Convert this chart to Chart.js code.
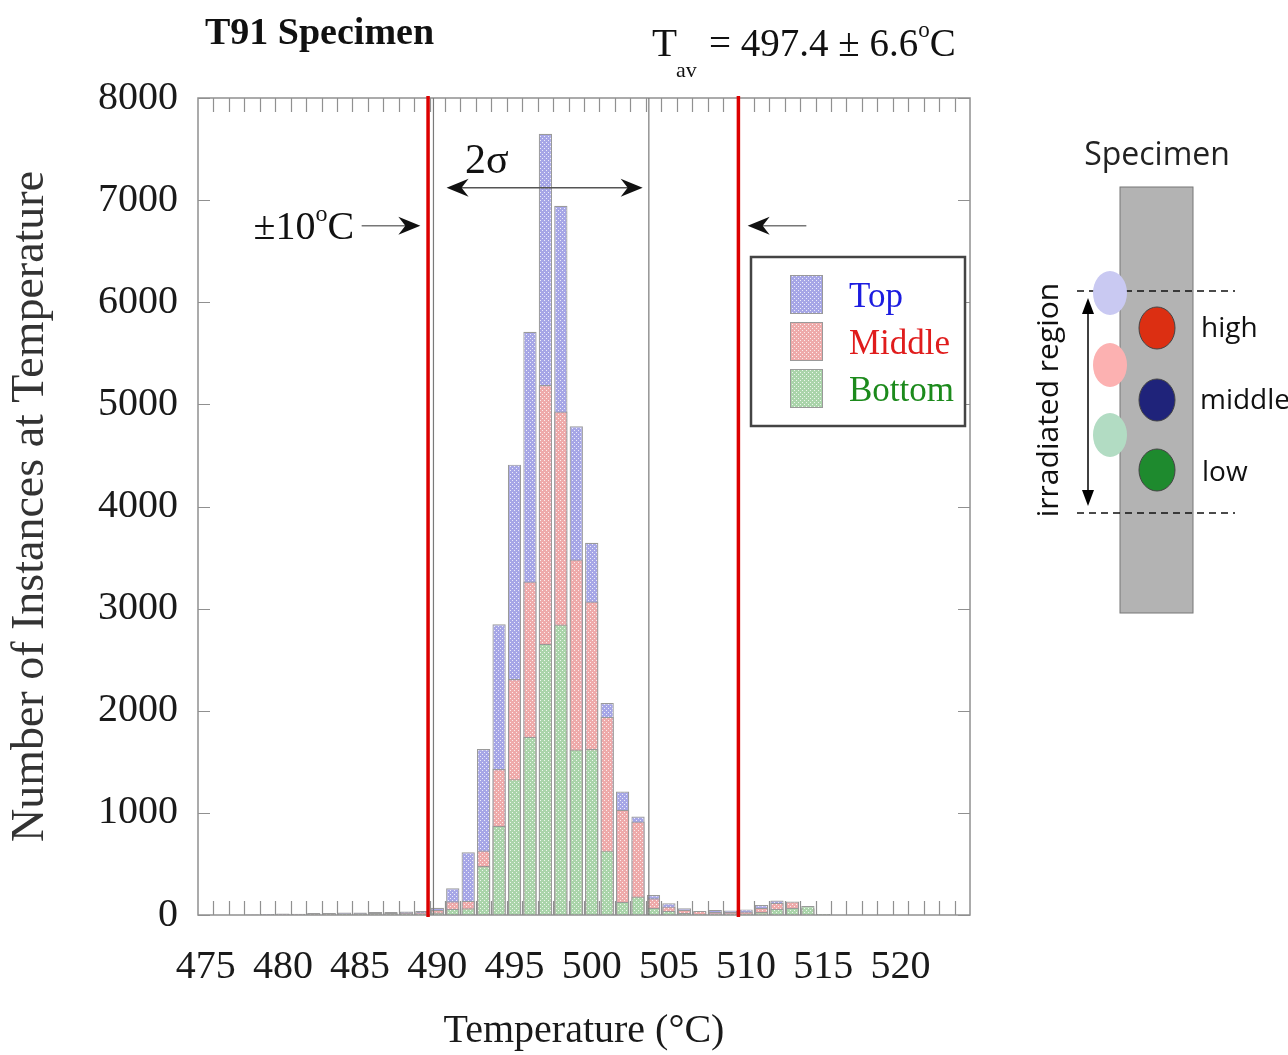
<!DOCTYPE html>
<html>
<head>
<meta charset="utf-8">
<script src="https://cdn.jsdelivr.net/npm/chart.js@4.4.1/dist/chart.umd.min.js"></script>
<style>
html, body { margin: 0; padding: 0; background: #fff; }
#wrap { position: relative; width: 1288px; height: 1055px; }
#histo { position: absolute; left: 0; top: 0; }
#diagram { position: absolute; left: 0; top: 0; }
</style>
</head>
<body>
<div id="wrap">
<canvas id="histo" width="1288" height="1055"></canvas>
<svg id="diagram" width="1288" height="1055" xmlns="http://www.w3.org/2000/svg">
  <text x="1157" y="165" font-family="Open Sans" font-size="32" fill="#222" text-anchor="middle">Specimen</text>
  <rect x="1120" y="187" width="73" height="426" fill="#b3b3b3" stroke="#777" stroke-width="1"/>
  <line x1="1077" y1="291" x2="1235" y2="291" stroke="#111" stroke-width="1.5" stroke-dasharray="7 5"/>
  <line x1="1077" y1="513" x2="1235" y2="513" stroke="#111" stroke-width="1.5" stroke-dasharray="7 5"/>
  <ellipse cx="1110" cy="293" rx="17" ry="22" fill="#c9c9f2"/>
  <ellipse cx="1110" cy="365" rx="17" ry="22" fill="#fcb1b1"/>
  <ellipse cx="1110" cy="435" rx="17" ry="22" fill="#b2dcc3"/>
  <ellipse cx="1157" cy="328" rx="18" ry="21" fill="#dc2f12" stroke="#444" stroke-width="1"/>
  <ellipse cx="1157" cy="400" rx="18" ry="21" fill="#1f237a" stroke="#444" stroke-width="1"/>
  <ellipse cx="1157" cy="470" rx="18" ry="21" fill="#1e8a2e" stroke="#444" stroke-width="1"/>
  <line x1="1088" y1="310" x2="1088" y2="494" stroke="#000" stroke-width="1.5"/>
  <polygon points="1088,298 1082,314 1094,314" fill="#000"/>
  <polygon points="1088,506 1082,490 1094,490" fill="#000"/>
  <text x="1058" y="400" font-family="Open Sans" font-size="30" fill="#111" text-anchor="middle" transform="rotate(-90 1058 400)">irradiated region</text>
  <text x="1201" y="337" font-family="Open Sans" font-size="28" fill="#111">high</text>
  <text x="1200" y="409" font-family="Open Sans" font-size="28" fill="#111">middle</text>
  <text x="1202" y="481" font-family="Open Sans" font-size="28" fill="#111">low</text>
</svg>
</div>
<script>
// histogram bins (deg C) and counts per thermocouple position
const temps = [478,479,480,481,482,483,484,485,486,487,488,489,490,491,492,493,494,495,496,497,498,499,500,501,502,503,504,505,506,507,508,509,510,511,512,513,514,515];
const topCounts    = [5,10,15,12,20,20,25,25,30,30,35,40,70,262,615,1626,2846,4410,5710,7650,6945,4785,3645,2075,1210,965,196,114,65,35,50,45,55,98,141,120,60,5];
const middleCounts = [3,5,8,8,12,14,15,18,20,22,25,28,50,135,140,631,1430,2310,3265,5190,4930,3480,3070,1940,1030,915,163,82,50,40,30,30,35,70,120,131,70,5];
const bottomCounts = [2,3,5,5,8,8,10,10,12,12,15,15,25,60,65,480,873,1330,1745,2655,2845,1620,1625,630,130,180,70,40,20,10,15,15,15,30,60,70,88,10];

const xTickLabels = [475,480,485,490,495,500,505,510,515,520];
const yTickValues = [0,1000,2000,3000,4000,5000,6000,7000,8000];
const binEdges = [];
for (let e = 475.5; e < 524.5; e += 1) binEdges.push(e);

const redLines = [489.4, 509.5];
const sigmaLines = [489.75, 503.7];

const serif = "'Liberation Serif', 'Times New Roman', serif";

function makePattern(base) {
  const c = document.createElement('canvas');
  c.width = 4; c.height = 4;
  const g = c.getContext('2d');
  g.fillStyle = base;
  g.fillRect(0, 0, 4, 4);
  g.fillStyle = 'rgba(255,255,255,0.8)';
  g.fillRect(0, 0, 1, 1);
  g.fillRect(2, 2, 1, 1);
  return g.createPattern(c, 'repeat');
}

const seriesStyle = [
  { label: 'Top', fill: makePattern('#a6a6e6'), text: '#1c1ce0', order: 3 },
  { label: 'Middle', fill: makePattern('#eeaaaa'), text: '#e01c1c', order: 2 },
  { label: 'Bottom', fill: makePattern('#aad4aa'), text: '#1c8a1c', order: 1 }
];
const seriesData = [topCounts, middleCounts, bottomCounts];

const points = arr => temps.map((t, i) => ({ x: t, y: arr[i] }));

// draw text made of parts (for superscripts / subscripts)
function drawParts(ctx, parts, x, y) {
  let cx = x;
  parts.forEach(p => {
    ctx.font = (p.bold ? 'bold ' : '') + p.size + 'px ' + serif;
    ctx.fillText(p.t, cx, y + (p.dy || 0));
    cx += ctx.measureText(p.t).width + (p.gap || 0);
  });
}

function arrowHead(ctx, x, y, dir) {
  ctx.beginPath();
  ctx.moveTo(x, y);
  ctx.lineTo(x - dir * 22, y - 9);
  ctx.lineTo(x - dir * 15, y);
  ctx.lineTo(x - dir * 22, y + 9);
  ctx.closePath();
  ctx.fill();
}

const decor = {
  id: 'decor',
  afterDatasetsDraw(chart) {
    const ctx = chart.ctx;
    const a = chart.chartArea;
    const xs = chart.scales.x, ys = chart.scales.y;
    ctx.save();

    // frame and inner minor ticks
    ctx.strokeStyle = '#909090';
    ctx.lineWidth = 1.5;
    ctx.strokeRect(a.left, a.top, a.right - a.left, a.bottom - a.top);
    ctx.lineWidth = 1.2;
    ctx.beginPath();
    binEdges.forEach(v => {
      const px = Math.round(xs.getPixelForValue(v)) + 0.5;
      ctx.moveTo(px, a.top); ctx.lineTo(px, a.top + 14);
      ctx.moveTo(px, a.bottom); ctx.lineTo(px, a.bottom - 14);
    });
    yTickValues.forEach(v => {
      const py = Math.round(ys.getPixelForValue(v)) + 0.5;
      ctx.moveTo(a.left, py); ctx.lineTo(a.left + 12, py);
      ctx.moveTo(a.right, py); ctx.lineTo(a.right - 12, py);
    });
    ctx.stroke();

    // 2 sigma bounds
    ctx.strokeStyle = '#7a7a7a';
    ctx.lineWidth = 1.2;
    sigmaLines.forEach(v => {
      const px = xs.getPixelForValue(v);
      ctx.beginPath(); ctx.moveTo(px, a.top); ctx.lineTo(px, a.bottom); ctx.stroke();
    });
    // +/-10 C bounds
    ctx.strokeStyle = '#dd0000';
    ctx.lineWidth = 3.5;
    redLines.forEach(v => {
      const px = xs.getPixelForValue(v);
      ctx.beginPath(); ctx.moveTo(px, a.top - 2); ctx.lineTo(px, a.bottom + 2); ctx.stroke();
    });

    // 2 sigma arrow
    ctx.fillStyle = '#111';
    ctx.strokeStyle = '#555';
    ctx.lineWidth = 1.5;
    const ay = ys.getPixelForValue(7120);
    const ax1 = xs.getPixelForValue(490.6), ax2 = xs.getPixelForValue(503.3);
    ctx.beginPath(); ctx.moveTo(ax1 + 10, ay); ctx.lineTo(ax2 - 10, ay); ctx.stroke();
    arrowHead(ctx, ax1, ay, -1);
    arrowHead(ctx, ax2, ay, 1);
    ctx.textBaseline = 'alphabetic';
    drawParts(ctx, [{ t: '2σ', size: 42 }], xs.getPixelForValue(491.8), ys.getPixelForValue(7270));

    // +/-10 C label and arrows
    const ly = ys.getPixelForValue(6750);
    drawParts(ctx, [{ t: '±10', size: 40 }, { t: 'o', size: 24, dy: -18 }, { t: 'C', size: 40 }],
      xs.getPixelForValue(478.1), ly + 13);
    ctx.strokeStyle = '#777';
    ctx.beginPath();
    ctx.moveTo(xs.getPixelForValue(485.1), ly); ctx.lineTo(xs.getPixelForValue(488.5), ly);
    ctx.moveTo(xs.getPixelForValue(513.9), ly); ctx.lineTo(xs.getPixelForValue(510.6), ly);
    ctx.stroke();
    arrowHead(ctx, xs.getPixelForValue(488.9), ly, 1);
    arrowHead(ctx, xs.getPixelForValue(510.1), ly, -1);

    // legend box
    const lx = a.left + 553, lt = a.top + 159, lw = 214, lh = 169;
    ctx.fillStyle = '#fff';
    ctx.fillRect(lx, lt, lw, lh);
    ctx.strokeStyle = '#444';
    ctx.lineWidth = 2.5;
    ctx.strokeRect(lx, lt, lw, lh);
    seriesStyle.forEach((s, i) => {
      const sy = lt + 18 + i * 47;
      ctx.fillStyle = s.fill;
      ctx.fillRect(lx + 39, sy, 32, 38);
      ctx.strokeStyle = '#9a9a9a';
      ctx.lineWidth = 1;
      ctx.strokeRect(lx + 39.5, sy + 0.5, 32, 38);
      ctx.fillStyle = s.text;
      ctx.font = '35px ' + serif;
      ctx.fillText(s.label, lx + 98, sy + 32);
    });

    ctx.restore();
  },
  afterDraw(chart) {
    const ctx = chart.ctx;
    ctx.save();
    ctx.fillStyle = '#111';
    ctx.textBaseline = 'alphabetic';
    drawParts(ctx, [{ t: 'T91 Specimen', size: 38, bold: true }], 205, 44);
    drawParts(ctx, [{ t: 'T', size: 41 }], 652, 56);
    drawParts(ctx, [{ t: 'av', size: 22 }], 676, 77);
    drawParts(ctx, [{ t: '= 497.4 ± 6.6', size: 39 }, { t: 'o', size: 23, dy: -19 }, { t: 'C', size: 39 }], 709, 56);
    ctx.restore();
  }
};

new Chart(document.getElementById('histo'), {
  type: 'bar',
  data: {
    datasets: seriesStyle.map((s, i) => ({
      label: s.label,
      data: points(seriesData[i]),
      backgroundColor: s.fill,
      borderColor: '#9a9a9a',
      borderWidth: 1.2,
      grouped: false,
      order: s.order,
      categoryPercentage: 1,
      barPercentage: 0.86
    }))
  },
  options: {
    responsive: false,
    devicePixelRatio: 1,
    animation: false,
    layout: { padding: { left: 0, right: 318, top: 98, bottom: 0 } },
    plugins: {
      legend: { display: false },
      tooltip: { enabled: false }
    },
    scales: {
      x: {
        type: 'linear',
        min: 474.5,
        max: 524.5,
        offset: false,
        afterBuildTicks: axis => { axis.ticks = xTickLabels.map(v => ({ value: v })); },
        afterFit: axis => { axis.height = 140; },
        grid: { display: false, drawTicks: false, offset: false },
        border: { display: false },
        ticks: {
          color: '#1a1a1a',
          font: { family: serif, size: 40 },
          padding: 28,
          maxRotation: 0,
          autoSkip: false,
          callback: v => String(v)
        },
        title: {
          display: true,
          text: 'Temperature (°C)',
          color: '#1a1a1a',
          font: { family: serif, size: 40, lineHeight: 1.2 },
          padding: { top: 0, bottom: 0 }
        }
      },
      y: {
        min: 0,
        max: 8000,
        afterBuildTicks: axis => { axis.ticks = yTickValues.map(v => ({ value: v })); },
        afterFit: axis => { axis.width = 198; },
        grid: { display: false, drawTicks: false },
        border: { display: false },
        ticks: {
          color: '#1a1a1a',
          font: { family: serif, size: 40 },
          padding: 20,
          callback: v => String(v)
        },
        title: {
          display: true,
          text: 'Number of Instances at Temperature',
          color: '#333',
          font: { family: serif, size: 46, lineHeight: 1.2 },
          padding: { top: 3, bottom: 0 }
        }
      }
    }
  },
  plugins: [decor]
});
</script>
</body>
</html>
